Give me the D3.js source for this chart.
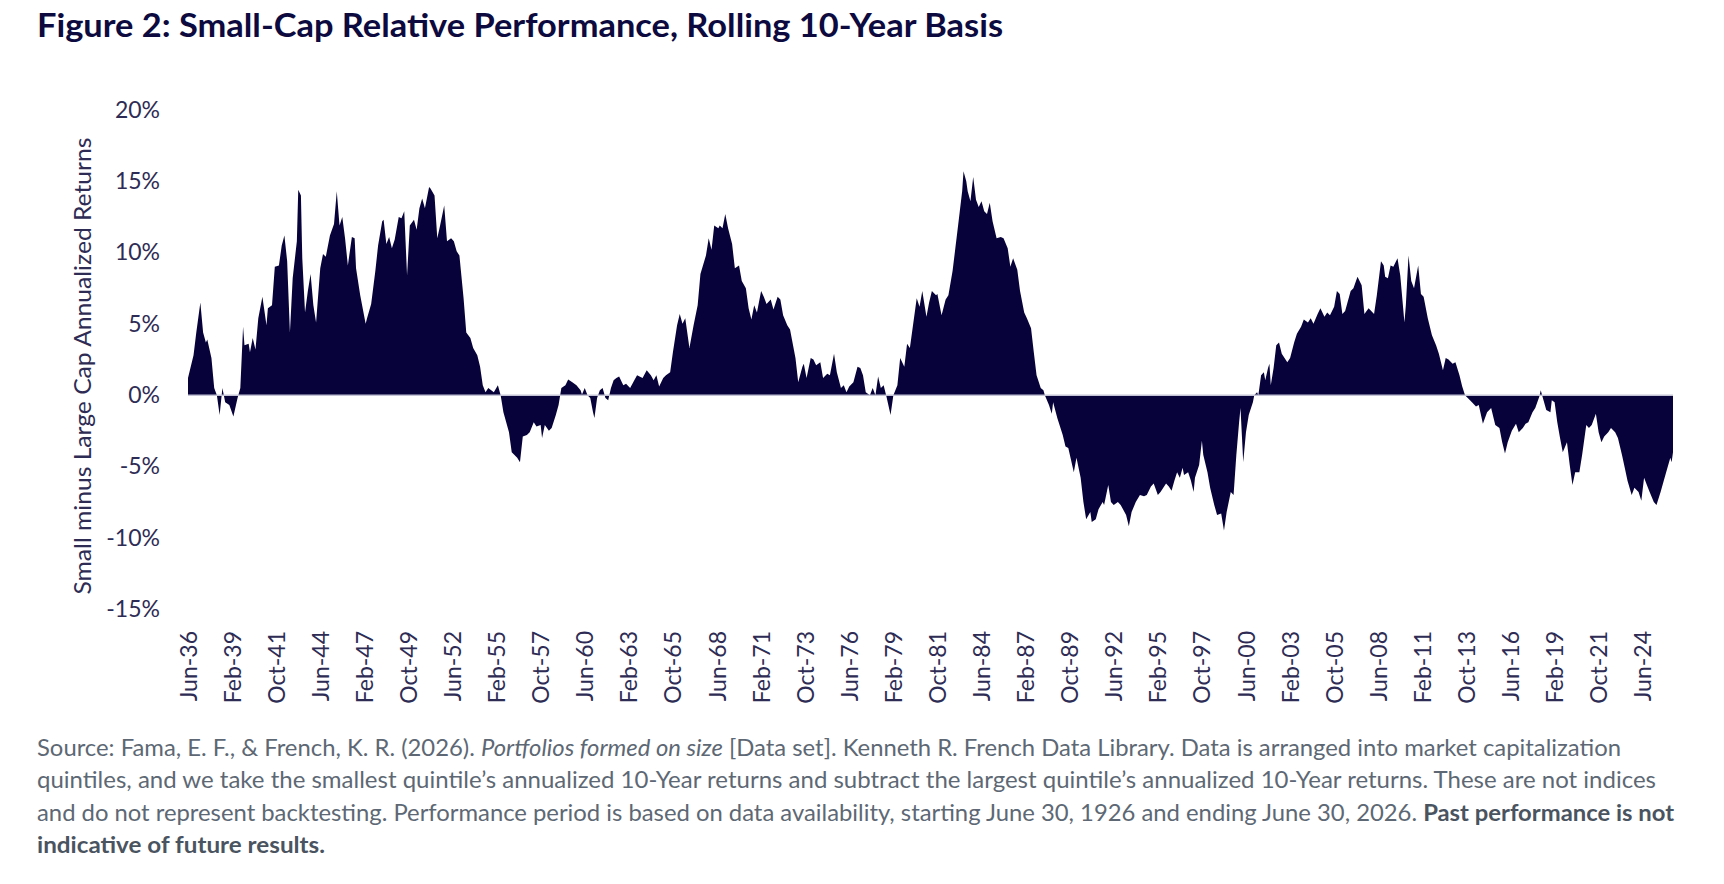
<!DOCTYPE html>
<html>
<head>
<meta charset="utf-8">
<script src="https://cdn.jsdelivr.net/npm/d3@7/dist/d3.min.js"></script>
<style>
  body { margin: 0; background: #fff; }
  text { font-family: Lato, "Open Sans", sans-serif; }
</style>
</head>
<body>
<div id="chart"></div>
<script>

// readings: [months after Jun-1936, small minus large cap 10y annualized return %]
var roll1936_1954 = [[0,1.2],[4,2.8],[6,4.4],[9,6.5],[11,4.4],[13,3.7],[14,3.9],[17,2.6],[19,0.5],[21,0],
  [23,-1.4],[25,0.5],[27,-0.5],[30,-0.7],[33,-1.5],[36,-0.2],[38,0.5],[40,4.8],[41,3.5],[44,3.6],
  [45,3.0],[47,4.0],[49,3.2],[51,5.4],[54,6.9],[57,4.9],[58,6.1],[61,6.3],[63,9.0],[66,9.1],
  [68,10.5],[70,11.2],[72,9.4],[74,4.4],[76,8.2],[79,10.8],[80,14.4],[82,14.0],[83,9.6],[85,5.8],
  [87,7.3],[89,8.5],[91,6.3],[93,5.1],[96,8.9],[98,9.9],[100,9.7],[103,11.2],[106,12.0],[108,14.3],
  [110,11.9],[112,12.5],[114,11.0],[116,9.1],[119,11.1],[121,11.0],[122,8.9],[125,7.0],[129,5.0],[130,5.4],
  [133,6.4],[136,8.7],[138,10.5],[141,12.2],[142,12.3],[144,10.6],[146,11.1],[148,10.3],[150,10.9],[153,12.5],
  [155,12.4],[157,12.9],[159,8.4],[161,11.9],[164,12.3],[166,11.6],[168,13.1],[170,13.8],[172,13.1],[175,14.6],
  [176,14.5],[179,14.0],[181,11.0],[183,11.9],[186,13.3],[188,10.8],[191,11.0],[193,10.8],[195,10.1],[197,9.8],
  [200,6.8],[202,4.4],[205,4.0],[207,3.3],[210,2.8],[212,2.0]]

var roll1954_1972 = [[214,0.7],[216,0.2],[218,0.5],[222,0.2],[225,0.7],[227,0],[229,-1.2],[233,-2.6],[235,-4.0],[239,-4.4],
  [241,-4.7],[243,-2.9],[246,-2.8],[248,-2.6],[251,-1.9],[253,-2.2],[256,-2.1],[257,-3.0],[259,-2.1],[262,-2.5],
  [264,-2.3],[267,-1.4],[269,-0.7],[271,0.5],[274,0.7],[276,1.1],[279,0.9],[282,0.7],[285,0.35],[286,0.05],
  [288,0.5],[290,0],[292,-0.2],[294,-1.2],[295,-1.6],[297,-0.2],[299,0.35],[301,0.5],[303,-0.2],[305,-0.35],
  [307,0.5],[309,1.05],[311,1.2],[313,1.3],[316,0.7],[318,0.8],[321,0.5],[324,1.05],[326,1.4],[330,1.2],
  [333,1.75],[336,1.4],[338,1.05],[340,1.4],[342,0.6],[345,1.2],[347,1.4],[350,1.6],[352,3.0],[355,4.9],
  [357,5.7],[359,5.0],[361,5.4],[364,3.3],[367,4.9],[370,6.3],[372,8.5],[376,9.8],[378,11.0],[380,10.2],
  [382,11.9],[385,11.7],[386,11.9],[388,11.7],[390,12.7],[392,11.7],[395,10.6],[397,8.9],[400,9.1],[402,8.0],
  [405,7.5],[407,6.1],[409,5.3],[411,6.3],[413,5.8],[416,7.3],[418,6.9],[420,6.4],[423,6.7],[425,6.0],[428,6.9]]

var roll1972_1987 = [[430,6.7],[432,5.6],[435,4.9],[437,4.6],[441,2.6],[443,0.9],[446,2.0],[447,2.2],[449,1.2],[452,2.6],
  [454,2.5],[456,2.1],[459,2.3],[461,1.2],[464,1.5],[466,1.4],[469,2.9],[471,1.6],[474,0.5],[476,0.7],
  [478,0.2],[480,0.6],[483,0.9],[486,2.0],[488,1.9],[490,1.4],[492,0.2],[495,0],[497,0.5],[499,0],
  [501,1.3],[503,0.5],[505,0.7],[507,-0.1],[510,-1.4],[512,0],[515,0.7],[517,2.6],[520,2.0],[522,3.6],
  [524,3.3],[527,5.4],[529,6.8],[531,6.2],[533,7.3],[536,5.5],[538,6.5],[540,7.3],[543,7.0],[544,7.1],
  [547,5.6],[550,6.7],[552,7.0],[555,8.7],[557,10.3],[559,11.9],[562,14.3],[563,15.7],[565,15.0],[566,14.3],
  [568,13.6],[570,15.3],[572,13.7],[574,13.2],[576,13.6],[578,12.9],[580,12.7],[582,13.5],[584,12.2],[587,11.0],
  [590,11.1],[592,11.0],[595,10.3],[597,9.0],[599,9.6],[602,8.8],[604,7.3],[607,5.8],[609,5.4]]

var roll1987_2005 = [[612,4.7],[614,3.0],[616,1.4],[619,0.5],[621,0.35],[622,0],[625,-0.7],[627,-1.3],[628,-0.5],[631,-1.6],
  [635,-2.8],[637,-3.6],[639,-3.7],[643,-5.4],[645,-4.4],[648,-5.8],[650,-7.5],[652,-8.7],[655,-8.2],[656,-8.9],
  [659,-8.7],[661,-8.0],[664,-7.5],[665,-7.7],[668,-6.3],[670,-7.5],[672,-7.7],[675,-7.5],[677,-7.7],[681,-8.4],
  [683,-9.2],[685,-8.2],[688,-7.5],[691,-7.0],[694,-7.1],[696,-7.0],[699,-6.4],[701,-6.2],[704,-7.0],[706,-6.8],
  [710,-6.2],[712,-6.4],[714,-6.7],[716,-6.0],[718,-5.4],[720,-5.8],[722,-5.1],[723,-5.6],[726,-5.4],[728,-6.0],
  [730,-6.8],[731,-5.8],[734,-4.9],[736,-3.2],[737,-4.2],[740,-5.4],[742,-6.5],[745,-7.7],[747,-8.4],[750,-8.3],
  [752,-9.5],[754,-8.2],[757,-6.8],[759,-7.0],[761,-4.2],[763,-1.9],[764,-0.9],[766,-4.7],[768,-2.6],[770,-1.4],
  [773,-0.5],[774,0],[776,0.2],[777,0],[779,1.4],[781,1.6],[782,1.05],[784,1.9],[785,2.2],[786,0.7],
  [788,1.9],[790,3.5],[792,3.7],[794,2.9],[796,2.6],[798,2.3],[800,2.6],[803,3.7],[805,4.3],[808,4.8],
  [810,5.3],[813,5.1],[815,5.4],[817,5.0],[820,5.7]]

var roll2005_2026 = [[822,6.1],[825,5.5],[827,5.8],[829,5.6],[832,6.2],[834,7.3],[836,7.1],[838,5.7],[840,5.9],[844,7.3],
  [846,7.5],[849,8.3],[852,7.7],[854,5.7],[857,6.1],[861,5.7],[863,7.0],[866,9.4],[868,9.1],[869,8.3],
  [871,8.2],[873,9.1],[875,9.0],[878,9.6],[880,8.4],[883,5.1],[884,6.3],[886,9.8],[888,8.0],[890,7.5],
  [893,9.1],[895,7.1],[897,6.9],[900,5.4],[903,4.2],[906,3.5],[908,2.9],[911,1.75],[913,2.6],[915,2.5],
  [918,2.2],[920,2.3],[923,1.4],[925,0.6],[927,0],[929,-0.2],[932,-0.5],[935,-0.8],[937,-0.7],[940,-2.0],
  [943,-1.2],[946,-0.9],[949,-2.1],[952,-2.3],[954,-3.3],[956,-4.1],[958,-3.3],[961,-2.5],[964,-2.0],[966,-2.6],
  [969,-2.3],[971,-2.0],[973,-1.9],[976,-1.2],[978,-0.9],[981,-0.1],[982,0.35],[984,-0.35],[986,-1.05],[989,-1.2],
  [990,-0.35],[992,-0.5],[994,-1.9],[996,-3.0],[998,-4.0],[1001,-3.3],[1003,-4.9],[1005,-6.3],[1007,-5.4],[1010,-5.4],
  [1012,-4.2],[1015,-2.1],[1017,-2.3],[1019,-2.1],[1022,-1.3],[1024,-2.6],[1026,-3.3],[1028,-2.9],[1031,-2.6],[1033,-2.3],
  [1036,-2.6],[1038,-3.0],[1041,-4.2],[1043,-5.1],[1045,-6.0],[1048,-7.0],[1050,-6.5],[1053,-6.8],[1055,-7.4],[1057,-5.8],
  [1059,-6.3],[1061,-6.8],[1064,-7.5],[1066,-7.7],[1069,-6.8],[1071,-6.1],[1073,-5.4],[1076,-4.4],[1077,-4.7],[1078,-4.0]]

var xTickLabels = ["Jun-36","Feb-39","Oct-41","Jun-44","Feb-47","Oct-49","Jun-52","Feb-55","Oct-57","Jun-60",
  "Feb-63","Oct-65","Jun-68","Feb-71","Oct-73","Jun-76","Feb-79","Oct-81","Jun-84","Feb-87",
  "Oct-89","Jun-92","Feb-95","Oct-97","Jun-00","Feb-03","Oct-05","Jun-08","Feb-11","Oct-13",
  "Jun-16","Feb-19","Oct-21","Jun-24"]
var yTicks = [-15, -10, -5, 0, 5, 10, 15, 20]

var titleText = "Figure 2: Small-Cap Relative Performance, Rolling 10-Year Basis"
var yTitle = "Small minus Large Cap Annualized Returns"

var W = 1724, H = 884
var plotLeft = 188, plotRight = 1673, plotTop = 110, plotBottom = 609
var firstMonth = new Date(1936, 5, 1)
var lastOffset = 1078, labelStep = 32

var data = [].concat(roll1936_1954, roll1954_1972, roll1972_1987, roll1987_2005, roll2005_2026)
	.map(function(d) { return { date: d3.timeMonth.offset(firstMonth, d[0]), v: d[1] } })

var x = d3.scaleTime()
	.domain([firstMonth, d3.timeMonth.offset(firstMonth, lastOffset)])
	.range([plotLeft, plotRight])

var y = d3.scaleLinear()
	.domain([-15, 20])
	.range([plotBottom, plotTop])

var svg = d3.select('#chart').append('svg')
	.attr('width', W)
	.attr('height', H)

// title
svg.append('text')
	.attr('x', 37).attr('y', 37)
	.attr('font-size', 32).attr('font-weight', 700)
	.attr('fill', '#0c0a3e')
	.attr('textLength', 966).attr('lengthAdjust', 'spacingAndGlyphs')
	.text(titleText)

// the area
svg.append('path')
	.datum(data)
	.attr('fill', '#07033a')
	.attr('d', d3.area()
		.x(function(d) { return x(d.date) })
		.y0(y(0))
		.y1(function(d) { return y(d.v) }))

// zero line on top
svg.append('line')
	.attr('x1', x.range()[0]).attr('x2', x.range()[1])
	.attr('y1', y(0)).attr('y2', y(0))
	.attr('stroke', '#c4c3d6').attr('stroke-width', 1.5)

// y axis, labels only
var yAx = svg.append('g')
	.attr('transform', 'translate(' + plotLeft + ',0)')
	.call(d3.axisLeft(y).tickValues(yTicks).tickSize(0).tickPadding(28)
		.tickFormat(function(d) { return d + '%' }))
yAx.select('.domain').remove()
yAx.selectAll('text')
	.attr('font-size', 23).attr('fill', '#2e2c55')
	.style('font-family', 'Lato, "Open Sans", sans-serif')

// x axis, rotated labels every 32 months
var xAx = svg.append('g')
	.attr('transform', 'translate(0,' + plotBottom + ')')
	.call(d3.axisBottom(x)
		.tickValues(xTickLabels.map(function(l, i) { return d3.timeMonth.offset(firstMonth, i * labelStep) }))
		.tickSize(0)
		.tickFormat(function(d, i) { return xTickLabels[i] }))
xAx.select('.domain').remove()
xAx.selectAll('text')
	.attr('transform', 'rotate(-90)')
	.attr('x', -22).attr('y', 0).attr('dy', '0.35em')
	.style('text-anchor', 'end')
	.attr('font-size', 23).attr('fill', '#2e2c55')
	.style('font-family', 'Lato, "Open Sans", sans-serif')

// y title
svg.append('text')
	.attr('transform', 'translate(91,366)rotate(-90)')
	.attr('text-anchor', 'middle')
	.attr('font-size', 23).attr('fill', '#2e2c55')
	.attr('textLength', 457).attr('lengthAdjust', 'spacingAndGlyphs')
	.text(yTitle)

// source note
var note = svg.append('g').attr('fill', '#5d6874').attr('font-size', 23)

var l1 = note.append('text').attr('x', 37).attr('y', 756)
	.attr('textLength', 1584).attr('lengthAdjust', 'spacingAndGlyphs')
l1.append('tspan').text('Source: Fama, E. F., & French, K. R. (2026). ')
l1.append('tspan').attr('font-style', 'italic').text('Portfolios formed on size')
l1.append('tspan').text(' [Data set]. Kenneth R. French Data Library. Data is arranged into market capitalization')

note.append('text').attr('x', 37).attr('y', 788)
	.attr('textLength', 1619).attr('lengthAdjust', 'spacingAndGlyphs')
	.text('quintiles, and we take the smallest quintile\u2019s annualized 10-Year returns and subtract the largest quintile\u2019s annualized 10-Year returns. These are not indices')

var l3 = note.append('text').attr('x', 37).attr('y', 821)
	.attr('textLength', 1637).attr('lengthAdjust', 'spacingAndGlyphs')
l3.append('tspan').text('and do not represent backtesting. Performance period is based on data availability, starting June 30, 1926 and ending June 30, 2026. ')
l3.append('tspan').attr('font-weight', 700).attr('fill', '#4a5460').text('Past performance is not')

note.append('text').attr('x', 37).attr('y', 853)
	.attr('font-weight', 700).attr('fill', '#4a5460')
	.attr('textLength', 288).attr('lengthAdjust', 'spacingAndGlyphs')
	.text('indicative of future results.')

</script>
</body>
</html>
